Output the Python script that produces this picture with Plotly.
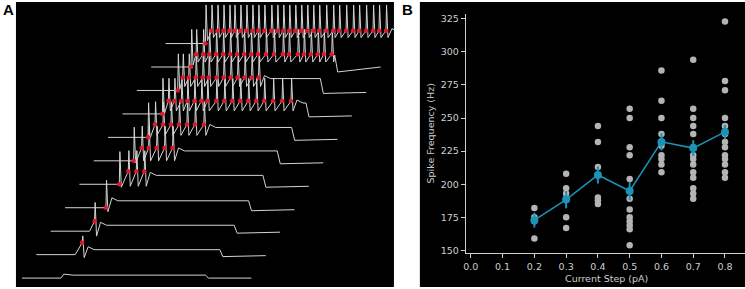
import plotly.graph_objects as go

# ---------------- Panel B data (spike frequency vs current step) ----------------
current_steps = [0.2, 0.3, 0.4, 0.5, 0.6, 0.7, 0.8]
freq_02 = [182, 175, 172, 159]
freq_03 = [208, 197, 193, 189, 175, 167]
freq_04 = [244, 232, 213, 190, 188, 185]
freq_05 = [257, 250, 228, 222, 204, 195, 189, 181, 175, 172, 169, 166, 154]
freq_06 = [286, 263, 250, 238, 232, 229, 222, 219, 215, 209]
freq_07 = [294, 257, 250, 244, 238, 228, 222, 219, 215, 209, 205, 197, 193, 189]
freq_08 = [323, 278, 271, 250, 244, 238, 232, 228, 222, 219, 215, 209, 205]
mean_freq = [172.9, 188.4, 207.0, 194.9, 232.0, 227.3, 239.5]
sem_freq = [5.5, 6.5, 6.5, 7.0, 6.5, 6.0, 5.5]
y_ticks = [150, 175, 200, 225, 250, 275, 300, 325]
x_ticks = [0.0, 0.1, 0.2, 0.3, 0.4, 0.5, 0.6, 0.7, 0.8]
x_title = "Current Step (pA)"
y_title = "Spike Frequency (Hz)"

# ---------------- Panel A data (example voltage traces) ----------------
# spike times (ms from start of each sweep)
spike_times = [
    [],
    [230],
    [220],
    [205],
    [200, 245, 285, 325],
    [200, 240, 275, 315, 355, 395],
    [200, 235, 275, 315, 355, 395, 435, 480],
    [200, 230, 260, 295, 325, 360, 395, 425, 470, 510, 550, 590, 630, 670, 710, 755, 800, 845],
    [205, 230, 260, 295, 330, 360, 400, 435, 470, 505, 540, 575, 610],
    [200, 225, 260, 290, 325, 360, 395, 430, 465, 500, 535, 575, 615, 660, 690, 735, 765, 800,
     835, 865, 905],
    [200, 230, 260, 290, 320, 345, 375, 405, 435, 465, 495, 530, 560, 590, 620, 650, 680, 710,
     740, 770, 805, 840, 870, 905, 940, 970, 1005, 1040, 1070, 1105],
]
step_on = [195] * 11
step_off = [920, 920, 920, 920, 920, 920, 920, 920, 920, 920, 1200]
sweep_end = [1150] * 10 + [1300]
# voltages relative to each sweep's resting level (mV)
plateau_v = [3, 5, 6, 7, 9, 10, 10, 11, 12, 12, 12]
first_thr_v = [0, 12, 10, 0, 0, 0, 0, 0, 0, 0, 0]
first_peak_v = [0, 19, 29, 28, 33, 34, 35, 36, 37, 38, 39]
first_trough_v = [0, -3, -5, -4, -3, -2, -1, 0, 1, 2, 3]
thr_v = [13] * 11
peak_v = [36, 36, 36, 36, 34, 35, 36, 36, 37, 38, 39]
trough_v = [0, 0, 0, 0, -2, 0, 2, 3, 4, 5, 6]
undershoot_v = [0, -2, -2, -3, -3, -3, -3, -3, -3, -5, -5]
recovery_v = [0, -1, -1, -2, -2, -2, -2, -2, -2, 0, 0]

sweep_dx = 72.0    # waterfall horizontal offset per sweep (ms)
sweep_dy = 23.7    # waterfall vertical offset per sweep (mV)

W, H = 745, 289
fig = go.Figure()

trace_col = "#d4d4d4"
red = "#e3172b"

for i in range(11):
    ox = i * sweep_dx
    oy = i * sweep_dy
    ts, vs = [], []
    thr_x, thr_y = [], []

    def add(t, v):
        ts.append(t + ox)
        vs.append(v + oy)

    add(0, 0)
    add(step_on[i], 0)
    sp = spike_times[i]
    if not sp:
        add(step_on[i] + 15, plateau_v[i] + 1)
        add(step_on[i] + 60, plateau_v[i])
        last = step_on[i] + 60
    else:
        for k, t in enumerate(sp):
            if k == 0:
                tv, pv, rv = first_thr_v[i], first_peak_v[i], first_trough_v[i]
            else:
                tv, pv, rv = thr_v[i], peak_v[i], trough_v[i]
            add(t, tv)
            thr_x.append(t + ox)
            thr_y.append(tv + oy)
            add(t + 3, pv)
            add(t + 10, rv)
        last = sp[-1] + 10
        if last + 25 < step_off[i]:
            add(sp[-1] + 30, plateau_v[i] + 3)
            last = sp[-1] + 30
        if last + 30 < step_off[i]:
            add(last + 30, plateau_v[i])
    add(step_off[i], plateau_v[i])
    add(step_off[i] + 15, undershoot_v[i])
    add(sweep_end[i], recovery_v[i])

    fig.add_trace(go.Scatter(x=ts, y=vs, mode="lines", line=dict(color=trace_col, width=1),
                             xaxis="x", yaxis="y", showlegend=False, hoverinfo="skip"))
    if thr_x:
        fig.add_trace(go.Scatter(x=thr_x, y=thr_y, mode="markers",
                                 marker=dict(color=red, size=4.5),
                                 xaxis="x", yaxis="y", showlegend=False))

# ---------------- Panel B traces ----------------
groups = [freq_02, freq_03, freq_04, freq_05, freq_06, freq_07, freq_08]
dot_x, dot_y = [], []
for s, g in zip(current_steps, groups):
    dot_x += [s] * len(g)
    dot_y += g
fig.add_trace(go.Scatter(x=dot_x, y=dot_y, mode="markers",
                         marker=dict(color="#b4b4b4", size=6.5),
                         xaxis="x2", yaxis="y2", showlegend=False))
teal = "#1b93b8"
fig.add_trace(go.Scatter(x=current_steps, y=mean_freq, mode="lines+markers",
                         line=dict(color=teal, width=1.5),
                         marker=dict(color=teal, size=8),
                         error_y=dict(type="data", array=sem_freq, color=teal, thickness=2, width=0),
                         xaxis="x2", yaxis="y2", showlegend=False))

axis_col = "#cfcfcf"
fnt = "DejaVu Sans"
fig.update_layout(
    width=W, height=H,
    margin=dict(l=0, r=0, t=0, b=0),
    paper_bgcolor="white",
    plot_bgcolor="rgba(0,0,0,0)",
    xaxis=dict(domain=[14 / W, 393 / W], range=[-30, 1865], visible=False, fixedrange=True),
    yaxis=dict(domain=[0, 1 - 1 / H], range=[-9, 279], visible=False, fixedrange=True),
    xaxis2=dict(domain=[465 / W, 1.0], range=[-0.016, 0.863], anchor="y2",
                tickvals=x_ticks, ticktext=[f"{v:.1f}" for v in x_ticks],
                showgrid=False, zeroline=False, showline=True, linecolor=axis_col, linewidth=1,
                ticks="outside", ticklen=4, tickcolor=axis_col,
                tickfont=dict(family=fnt, size=9.5, color=axis_col)),
    yaxis2=dict(domain=[(H - 255) / H, (H - 13) / H], range=[147.8, 328.7], anchor="x2",
                tickvals=y_ticks, showgrid=False, zeroline=False, showline=True,
                linecolor=axis_col, linewidth=1,
                ticks="outside", ticklen=4, tickcolor=axis_col,
                tickfont=dict(family=fnt, size=9.5, color=axis_col)),
    shapes=[
        dict(type="rect", xref="paper", yref="paper", x0=14 / W, x1=393 / W, y0=0, y1=1 - 1 / H,
             fillcolor="black", line=dict(width=0), layer="below"),
        dict(type="rect", xref="paper", yref="paper", x0=419 / W, x1=1, y0=0, y1=1 - 1 / H,
             fillcolor="black", line=dict(width=0), layer="below"),
    ],
    annotations=[
        dict(text="<b>A</b>", x=7 / W, y=1 - 9 / H, xref="paper", yref="paper", showarrow=False,
             xanchor="center", yanchor="middle",
             font=dict(family="Liberation Sans", size=15, color="black")),
        dict(text="<b>B</b>", x=407 / W, y=1 - 9 / H, xref="paper", yref="paper", showarrow=False,
             xanchor="center", yanchor="middle",
             font=dict(family="Liberation Sans", size=15, color="black")),
        dict(text=x_title, x=606 / W, y=1 - 280 / H, xref="paper", yref="paper", showarrow=False,
             xanchor="center", yanchor="middle",
             font=dict(family=fnt, size=9.5, color=axis_col)),
        dict(text=y_title, x=430 / W, y=1 - 134 / H, xref="paper", yref="paper", showarrow=False,
             xanchor="center", yanchor="middle", textangle=-90,
             font=dict(family=fnt, size=9.5, color=axis_col)),
    ],
)

fig.write_html("out.html", config={"displayModeBar": False},
               post_script="document.body.style.margin='0';document.body.style.overflow='hidden';")
